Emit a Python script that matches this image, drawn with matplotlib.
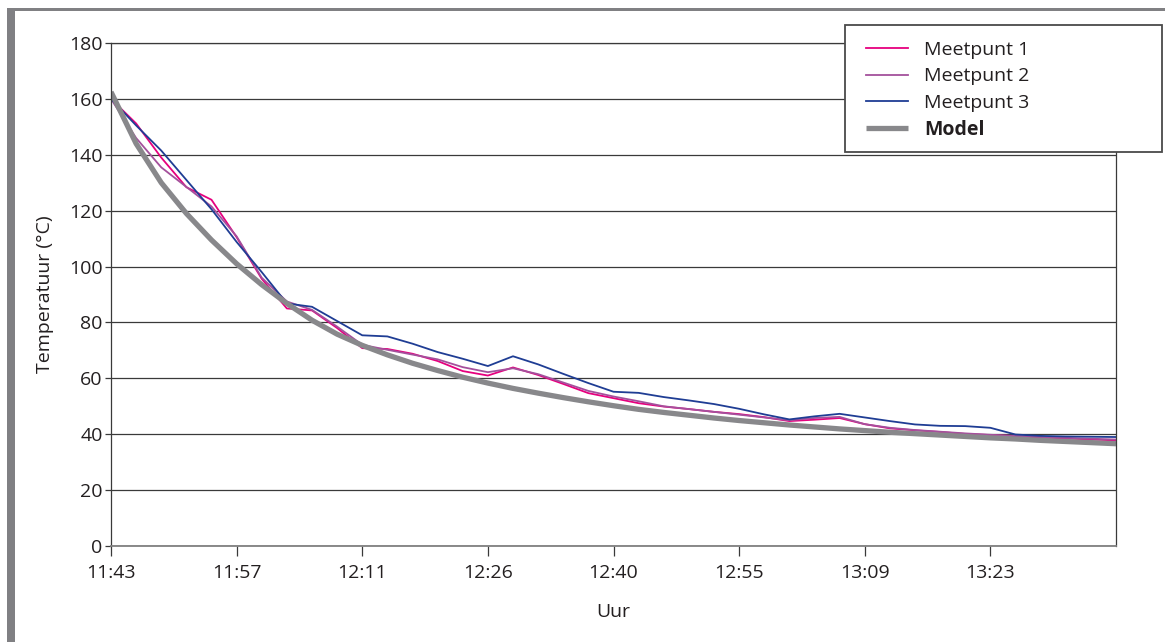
import numpy as np
import matplotlib
matplotlib.use("Agg")
import matplotlib.pyplot as plt
from matplotlib.patches import Rectangle

plt.rcParams['font.family'] = ['Open Sans', 'DejaVu Sans']

# tijdas: om de 5 metingen een label
tijd_labels = ['11:43', '11:57', '12:11', '12:26', '12:40', '12:55', '13:09', '13:23']

meetpunt1 = [160, 151.2, 139.0, 128.4, 123.9, 110.5, 95.6, 85.0, 84.3, 78.0,
             70.8, 70.5, 68.8, 66.2, 62.6, 61.0, 63.9, 61.2, 58.0, 54.7,
             52.9, 51.1, 49.9, 49.0, 48.0, 47.2, 46.1, 44.7, 45.2, 45.8,
             43.6, 42.1, 41.4, 40.8, 40.1, 39.7, 39.3, 38.8, 38.5, 38.1, 37.8]
meetpunt2 = [160, 146.0, 135.5, 128.5, 121.5, 110.8, 96.0, 87.5, 84.5, 78.5,
             72.0, 70.2, 68.5, 66.8, 64.0, 62.2, 63.6, 61.5, 58.5, 55.5,
             53.5, 51.8, 50.0, 49.0, 48.0, 47.0, 46.0, 45.0, 45.8, 46.2,
             43.6, 42.3, 41.5, 40.9, 40.3, 39.8, 39.4, 39.0, 38.7, 38.4, 38.1]
meetpunt3 = [160, 150.5, 141.5, 131.0, 120.5, 108.8, 98.0, 86.8, 85.6, 80.5,
             75.4, 75.0, 72.4, 69.4, 67.0, 64.4, 67.9, 65.0, 61.6, 58.3,
             55.2, 54.8, 53.3, 52.1, 50.8, 49.1, 47.1, 45.3, 46.4, 47.3,
             46.0, 44.7, 43.5, 43.0, 42.9, 42.3, 39.9, 39.4, 39.2, 39.1, 39.0]
model = [162.5, 144.0, 130.0, 119.0, 109.5, 101.0, 93.5, 86.8, 80.8, 75.8,
         71.8, 68.4, 65.4, 62.8, 60.4, 58.3, 56.4, 54.7, 53.1, 51.6,
         50.2, 48.9, 47.8, 46.8, 45.8, 44.9, 44.1, 43.3, 42.6, 41.9,
         41.3, 40.7, 40.2, 39.7, 39.2, 38.7, 38.3, 37.8, 37.4, 37.0, 36.6]

x = np.arange(len(model))

fig = plt.figure(figsize=(11.65, 6.42), dpi=100)
ax = fig.add_axes([111/1165, 1-546/642, 1005/1165, 503/642])

l1, = ax.plot(x, meetpunt1, color='#e6007e', lw=1.3, solid_joinstyle='round', label='Meetpunt 1')
l2, = ax.plot(x, meetpunt2, color='#a4509c', lw=1.3, solid_joinstyle='round', label='Meetpunt 2')
l3, = ax.plot(x, meetpunt3, color='#1f3d94', lw=1.3, solid_joinstyle='round', label='Meetpunt 3')
l4, = ax.plot(x, model, color='#88888b', lw=3.8, solid_joinstyle='round',
              solid_capstyle='butt', label='Model')

ax.set_xlim(0, 40)
ax.set_ylim(0, 180)
ax.set_yticks(range(0, 181, 20))
ax.set_xticks(range(0, 36, 5))
ax.set_xticklabels(tijd_labels)
ax.grid(axis='y', color='#3a3a3a', lw=0.9)
ax.set_axisbelow(True)

for s in ['left', 'right', 'top']:
    ax.spines[s].set_color('#3a3a3a')
    ax.spines[s].set_linewidth(0.9)
ax.spines['bottom'].set_color('#808080')
ax.spines['bottom'].set_linewidth(1.3)
ax.tick_params(axis='y', length=4, width=0.9, color='#3a3a3a', pad=2, labelsize=14, labelcolor='#231f20')
ax.tick_params(axis='x', length=7, width=0.9, color='#3a3a3a', pad=6, labelsize=14, labelcolor='#231f20')

fig.text(45/1165, 1-294.5/642, 'Temperatuur (°C)', rotation=90, ha='center', va='center',
         fontsize=14, color='#231f20')
fig.text(613.5/1165, 1-612/642, 'Uur', ha='center', va='center', fontsize=14, color='#231f20')

# legenda met los kader
fig.add_artist(Rectangle((845/1165, 1-152/642), 317/1165, 127/642, transform=fig.transFigure,
                         facecolor='white', edgecolor='#4a4a4a', lw=1.3, zorder=5))
leg = fig.legend(handles=[l1, l2, l3, l4], loc='upper left',
                 bbox_to_anchor=(866/1165, 1-41/642), frameon=False, fontsize=14,
                 handlelength=2.16, handletextpad=0.82, labelspacing=0.43, borderpad=0,
                 borderaxespad=0)
leg.set_zorder(6)
for t in leg.get_texts():
    t.set_color('#231f20')
leg.get_texts()[3].set_fontweight('bold')

# grijze kaderlijnen
fig.add_artist(Rectangle((7/1165, 0), 8/1165, 1-8/642, transform=fig.transFigure,
                         color='#808083', lw=0))
fig.add_artist(Rectangle((7/1165, 1-11/642), 1, 3/642, transform=fig.transFigure,
                         color='#808083', lw=0))

fig.savefig('out.png', dpi=100)
